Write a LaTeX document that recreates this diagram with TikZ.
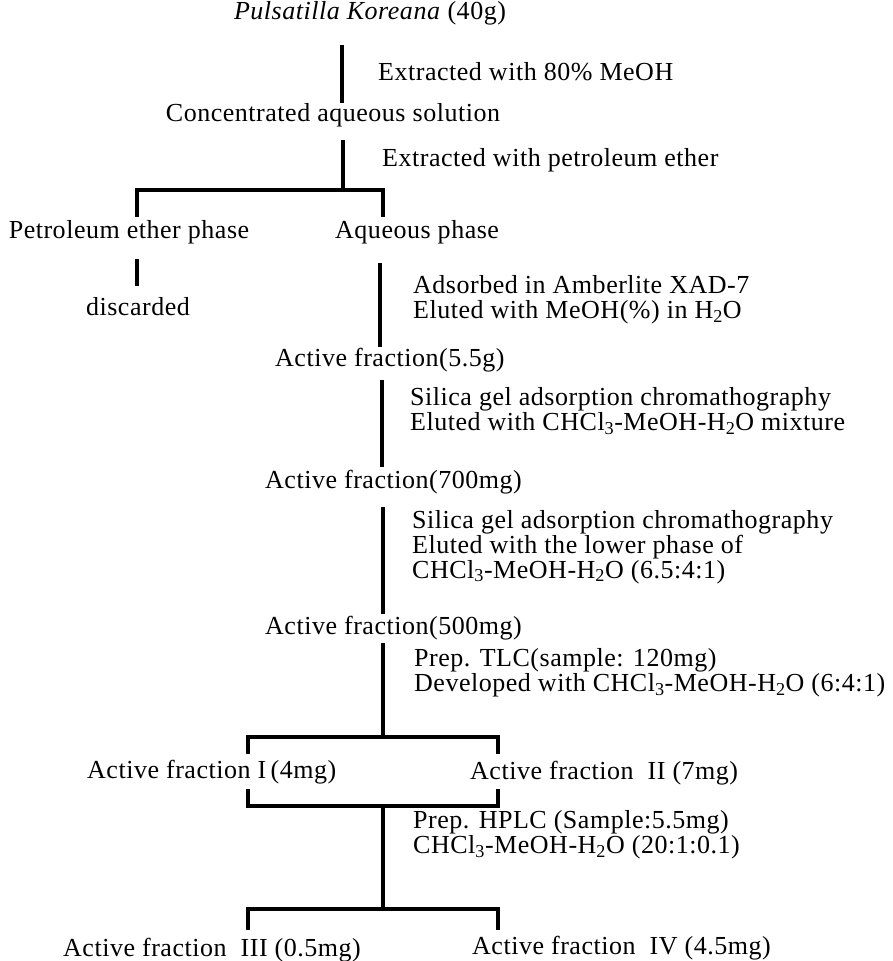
\documentclass[tikz,border=0pt]{standalone}
\usepackage{fontspec}
\setmainfont{Liberation Serif}[LetterSpace=2]

\begin{document}
\begin{tikzpicture}[x=1pt,y=-1pt,
        stem/.style={line width=3.2pt},
        txt/.style={inner sep=0pt,font=\fontsize{26}{25}\selectfont},
        note/.style={txt,anchor=west,align=left}]
            \useasboundingbox (0,0) rectangle (892,961);

            \coordinate (p0) at (342,45);
            \coordinate (p1) at (342,103);
            \coordinate (c0) at (343,140);
            \coordinate (c1) at (343,190);
            \coordinate (b1l) at (137,217);
            \coordinate (b1r) at (383,217);
            \coordinate (d0) at (137,259);
            \coordinate (d1) at (137,286);
            \coordinate (a0) at (380,263);
            \coordinate (a1) at (380,347);
            \coordinate (e0) at (382,380);
            \coordinate (e1) at (382,467);
            \coordinate (g0) at (383,507);
            \coordinate (g1) at (383,614);
            \coordinate (h0) at (383,643);
            \coordinate (h1) at (383,737);
            \coordinate (b2l) at (248,754);
            \coordinate (b2r) at (498,754);
            \coordinate (b3l) at (248,789);
            \coordinate (b3r) at (498,789);
            \coordinate (k0) at (383,806);
            \coordinate (k1) at (383,909);
            \coordinate (b4l) at (248,930);
            \coordinate (b4r) at (498,930);

            \node[txt] (plant) at (370,13) {\textit{Pulsatilla Koreana} (40g)};
            \node[note] (s1) at (378,72) {Extracted with 80\% MeOH};
            \node[txt] (conc) at (333,115) {Concentrated aqueous solution};
            \node[note] (s2) at (382,160) {Extracted with petroleum ether};
            \node[txt] (pet) at (129,232) {Petroleum ether phase};
            \node[txt,anchor=west] (aq) at (335,232) {Aqueous phase};
            \node[txt] (disc) at (138,307) {discarded};
            \node[note] (s3) at (413,300) {Adsorbed in Amberlite XAD-7\\
                Eluted with MeOH(\%) in H\textsubscript{2}O};
            \node[txt,anchor=west] (f1) at (275,360) {Active fraction(5.5g)};
            \node[note] (s4) at (410,411) {Silica gel adsorption chromathography\\
                Eluted with CHCl\textsubscript{3}-MeOH-H\textsubscript{2}O mixture};
            \node[txt,anchor=west] (f2) at (265,482) {Active fraction(700mg)};
            \node[note] (s5) at (412,547) {Silica gel adsorption chromathography\\
                Eluted with the lower phase of\\
                CHCl\textsubscript{3}-MeOH-H\textsubscript{2}O (6.5:4:1)};
            \node[txt,anchor=west] (f3) at (265,628) {Active fraction(500mg)};
            \node[note] (s6) at (414,673) {Prep. TLC(sample: 120mg)\\
                Developed with CHCl\textsubscript{3}-MeOH-H\textsubscript{2}O (6:4:1)};
            \node[txt,anchor=west] (f4) at (87,772) {Active fraction I\,(4mg)};
            \node[txt,anchor=west] (f5) at (470,773) {Active fraction \ II (7mg)};
            \node[note] (s7) at (413,835) {Prep. HPLC (Sample:5.5mg)\\
                CHCl\textsubscript{3}-MeOH-H\textsubscript{2}O (20:1:0.1)};
            \node[txt,anchor=west] (f6) at (63,950) {Active fraction \ III (0.5mg)};
            \node[txt,anchor=west] (f7) at (472,948) {Active fraction \ IV (4.5mg)};

            \draw[stem] (p0) -- (p1);
            \draw[stem] (c0) -- (c1);
            \draw[stem] (b1l) |- (c1) -| (b1r);
            \draw[stem] (d0) -- (d1);
            \draw[stem] (a0) -- (a1);
            \draw[stem] (e0) -- (e1);
            \draw[stem] (g0) -- (g1);
            \draw[stem] (h0) -- (h1);
            \draw[stem] (b2l) |- (h1) -| (b2r);
            \draw[stem] (b3l) |- (k0) -| (b3r);
            \draw[stem] (k0) -- (k1);
            \draw[stem] (b4l) |- (k1) -| (b4r);

        \end{tikzpicture}
\end{document}
